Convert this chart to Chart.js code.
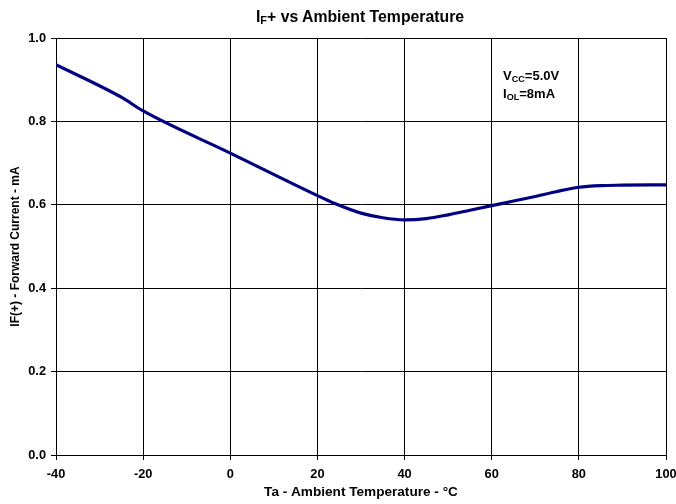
<!DOCTYPE html>
<html>
<head>
<meta charset="utf-8">
<script src="https://cdn.jsdelivr.net/npm/chart.js@4.4.1/dist/chart.umd.min.js"></script>
<style>
	body { margin: 0; background: #fff; }
	#wrap { position: relative; width: 676px; height: 504px; }
	.lbl { position: absolute; font-family: "Liberation Sans", Arial, sans-serif; font-weight: bold; color: #000; white-space: nowrap; }
	.lbl sub { font-size: 70%; vertical-align: -2px; line-height: 0; }
</style>
</head>
<body>
<div id="wrap">
	<canvas id="myChart" width="676" height="504"></canvas>
	<div class="lbl" id="title" style="left:0; width:720px; text-align:center; top:8px; font-size:15.8px;">I<sub>F</sub>+ vs Ambient Temperature</div>
	<div class="lbl" style="left:503px; top:68px; font-size:13px;">V<sub>CC</sub>=5.0V</div>
	<div class="lbl" style="left:503px; top:86px; font-size:13px;">I<sub>OL</sub>=8mA</div>
</div>
<script>
// 온도 (°C)
var temps = [-40, -25, -20, 0, 20, 24, 30, 35, 40, 45, 50, 55, 60, 65, 70, 75, 80, 85, 90, 100];
// 순방향 전류 IF(+) (mA)
var currents = [0.936, 0.858, 0.825, 0.724, 0.622, 0.603, 0.580, 0.569, 0.564, 0.567, 0.576, 0.587, 0.598, 0.609, 0.620, 0.632, 0.642, 0.646, 0.647, 0.648];
// 축 범위
var xMin = -40, xMax = 100, xStep = 20;
var yMin = 0, yMax = 1, yStep = 0.2;

var points = temps.map(function(t, i) {
	return { x: t, y: currents[i] };
});

var tickFont = { family: "'Liberation Sans', Arial, sans-serif", size: 12.8, weight: 'bold' };

var ctx = document.getElementById('myChart').getContext('2d');
window.myChart = new Chart(ctx, {
	type: 'scatter',
	data: {
		datasets: [{
			label: 'IF+',
			data: points,
			showLine: true,
			borderColor: '#000080',
			backgroundColor: '#000080',
			borderWidth: 3.2,
			pointRadius: 0,
			cubicInterpolationMode: 'monotone'
		}]
	},
	options: {
		responsive: false,
		animation: false,
		layout: { padding: { left: 0, top: 38, right: 10, bottom: 0 } },
		plugins: {
			legend: { display: false },
			tooltip: { enabled: false }
		},
		scales: {
			x: {
				type: 'linear',
				min: xMin,
				max: xMax,
				ticks: { stepSize: xStep, color: '#000', font: tickFont, padding: 7, maxRotation: 0 },
				grid: { color: '#000', lineWidth: 1, tickLength: 5, tickColor: '#000' },
				border: { color: '#000', width: 1 },
				title: {
					display: true,
					text: 'Ta - Ambient Temperature - °C',
					color: '#000',
					font: { family: "'Liberation Sans', Arial, sans-serif", size: 13.6, weight: 'bold' },
					padding: { top: 4, bottom: 4 }
				},
				afterFit: function(scale) {
					scale.height = 49;
					scale.paddingLeft = 0;
					scale.paddingRight = 10; // 오른쪽 여백 고정
				}
			},
			y: {
				min: yMin,
				max: yMax,
				ticks: {
					stepSize: yStep,
					color: '#000',
					font: tickFont,
					padding: 5,
					callback: function(v) { return v.toFixed(1); }
				},
				grid: { color: '#000', lineWidth: 1, tickLength: 5, tickColor: '#000' },
				border: { color: '#000', width: 1 },
				title: {
					display: true,
					text: 'IF(+) - Forward Current - mA',
					color: '#000',
					font: { family: "'Liberation Sans', Arial, sans-serif", size: 12, weight: 'bold' },
					padding: { top: 8, bottom: 2 }
				},
				afterFit: function(scale) { scale.width = 56; }
			}
		}
	}
});
</script>
</body>
</html>
